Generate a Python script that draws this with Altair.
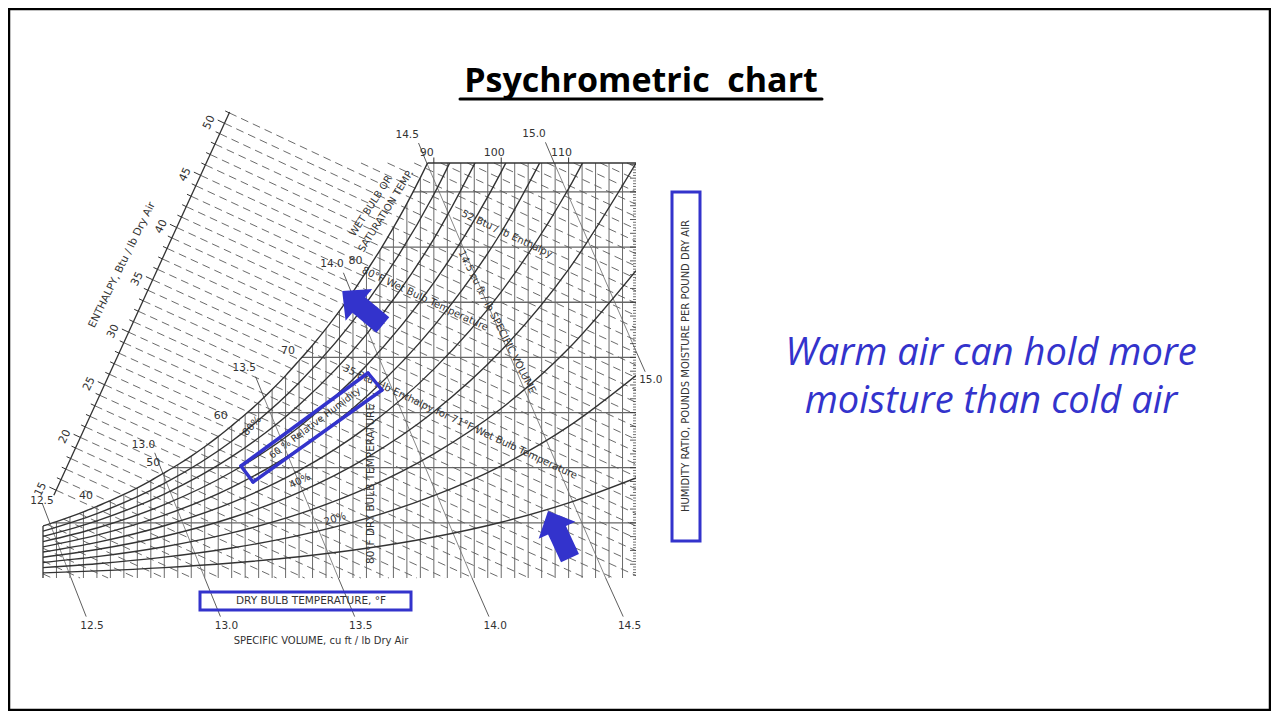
import altair as alt
import numpy as np
import pandas as pd

# ---------------- values ----------------
DRY_BULB_TICKS = [40, 50, 60, 70, 80, 90, 100, 110]
TOP_DRY_BULB_TICKS = [90, 100, 110]
HUMIDITY_TICKS = [0, 0.004, 0.008, 0.012, 0.016, 0.020, 0.024, 0.028]
WET_BULB_LABELS = [40, 50, 60, 70, 80]
ENTHALPY_TICKS = [15, 20, 25, 30, 35, 40, 45, 50]
VOLUME_VALUES = [12.5, 13.0, 13.5, 14.0, 14.5, 15.0]
T_MIN, T_MAX = 32, 120
W_TOP = 0.0301

# saturation (100 % RH) humidity ratio, every 2 F
SAT_T = list(range(32, 92, 2))
SAT_W = [0.003775, 0.004088, 0.004428, 0.004796, 0.005195, 0.005610, 0.006058,
         0.006542, 0.007065, 0.007631, 0.008214, 0.008844, 0.009522, 0.010252,
         0.011040, 0.011853, 0.012727, 0.013667, 0.014679, 0.015768, 0.016886,
         0.018086, 0.019373, 0.020755, 0.022245, 0.023771, 0.025406, 0.027158,
         0.029037, 0.031057]

# relative humidity curves, every 10 F
RH_T = [32, 40, 50, 60, 70, 80, 90, 100, 110, 120]
RH_10 = [0.000375, 0.000516, 0.000755, 0.001087, 0.001542, 0.002155, 0.002972, 0.004044, 0.005449, 0.007257]
RH_20 = [0.000751, 0.001032, 0.001511, 0.002177, 0.003091, 0.004325, 0.005973, 0.008140, 0.010995, 0.014686]
RH_30 = [0.001128, 0.001550, 0.002270, 0.003271, 0.004648, 0.006511, 0.009002, 0.012291, 0.016639, 0.022291]
RH_40 = [0.001504, 0.002068, 0.003030, 0.004369, 0.006213, 0.008711, 0.012061, 0.016496, 0.022384, 0.030081]
RH_50 = [0.001882, 0.002587, 0.003792, 0.005471, 0.007785, 0.010927, 0.015150, 0.020758, 0.028235, 0.038061]
RH_60 = [0.002259, 0.003107, 0.004556, 0.006577, 0.009366, 0.013159, 0.018269, 0.025077, 0.034192]
RH_70 = [0.002638, 0.003628, 0.005322, 0.007687, 0.010954, 0.015406, 0.021419, 0.029454, 0.040259]
RH_80 = [0.003016, 0.004149, 0.006090, 0.008801, 0.012550, 0.017670, 0.024600, 0.033891]
RH_90 = [0.003395, 0.004672, 0.006859, 0.009918, 0.014155, 0.019949, 0.027812, 0.038389]
RH_CURVES = {10: RH_10, 20: RH_20, 30: RH_30, 40: RH_40, 50: RH_50,
             60: RH_60, 70: RH_70, 80: RH_80, 90: RH_90}

# oblique enthalpy scale (end points, dry bulb F / humidity ratio)
ENTHALPY_SCALE_T = [33.6, 59.7]
ENTHALPY_SCALE_W = [0.0060, 0.0338]

# ---------------- styling ----------------
BLUE = '#3333CC'
INK = '#333333'
GRID = '#5a5a5a'
FONT = 'DejaVu Sans'
OX, OY = 43, 163          # page position of the plot origin
PW, PH = 593, 415         # plot size

xs = alt.Scale(domain=[T_MIN, T_MAX], nice=False, zero=False)
ys = alt.Scale(domain=[0, W_TOP], nice=False, zero=False)


def X(f, axis=None):
    return alt.X(f, type='quantitative', scale=xs, axis=axis)


def Y(f, axis=None):
    return alt.Y(f, type='quantitative', scale=ys, axis=axis)


xaxis = alt.Axis(values=DRY_BULB_TICKS, title=None, grid=False, orient='bottom',
                 tickSize=6, tickColor=INK, domainColor=INK, domainWidth=1.3,
                 labelFont=FONT, labelFontSize=11, labelColor=INK, labelPadding=1,
                 labelFlush=False, labelOverlap=False)
yaxis = alt.Axis(values=HUMIDITY_TICKS, title=None, grid=False, orient='right',
                 tickSize=6, tickColor=INK, domainColor=INK, domainWidth=1.3,
                 labelFont=FONT, labelFontSize=11, labelColor=INK, labelPadding=2,
                 labelFlush=False, labelOverlap=False,
                 labelExpr="datum.value == 0 ? '0' : substring(format(datum.value, '.3f'), 1)")

# ---------------- derived tables ----------------
rh_rows = []
for rh, ws in RH_CURVES.items():
    for t, w in zip(RH_T, ws):
        rh_rows.append({'rh': rh, 'T': t, 'W': w})
for t, w in zip(SAT_T, SAT_W):
    rh_rows.append({'rh': 100, 'T': t, 'W': w})
rh_df = pd.DataFrame(rh_rows)

vert_df = pd.DataFrame({'T': list(range(34, 120, 2))})
vert_df['W1'] = 0.0
vert_df['W2'] = np.minimum(np.interp(vert_df['T'], SAT_T, SAT_W), W_TOP)

horiz_df = pd.DataFrame({'W': HUMIDITY_TICKS[1:]})
horiz_df['T1'] = np.interp(horiz_df['W'], SAT_W, SAT_T)
horiz_df['T2'] = T_MAX

t_corner = float(np.interp(W_TOP, SAT_W, SAT_T))
edge_df = pd.DataFrame({'T1': [t_corner, T_MIN], 'T2': [T_MAX, T_MIN],
                        'W1': [W_TOP, 0.0], 'W2': [W_TOP, SAT_W[0]]})


def w_h(h, t):
    return (h - 0.24 * t) / (1061 + 0.444 * t)


def t_h(h, w):
    return (h - 1061 * w) / (0.24 + 0.444 * w)


sat_tf = np.linspace(32, 90, 2321)
sat_wf = np.interp(sat_tf, SAT_T, SAT_W)
u = np.linspace(0, 1, 2001)
sc_t = ENTHALPY_SCALE_T[0] + u * (ENTHALPY_SCALE_T[1] - ENTHALPY_SCALE_T[0])
sc_w = ENTHALPY_SCALE_W[0] + u * (ENTHALPY_SCALE_W[1] - ENTHALPY_SCALE_W[0])
sc_h = 0.24 * sc_t + sc_w * (1061 + 0.444 * sc_t)
H_LO, H_HI = sc_h[0], sc_h[-1]
h_edge = 0.24 * T_MIN + SAT_W[0] * (1061 + 0.444 * T_MIN)


def on_scale(h):
    uu = np.interp(h, sc_h, u)
    return (ENTHALPY_SCALE_T[0] + uu * (ENTHALPY_SCALE_T[1] - ENTHALPY_SCALE_T[0]),
            ENTHALPY_SCALE_W[0] + uu * (ENTHALPY_SCALE_W[1] - ENTHALPY_SCALE_W[0]))


enth_rows, tick_rows = [], []
for h in range(8, 63):
    if h <= h_edge:
        t1, w1 = T_MIN, w_h(h, T_MIN)
    elif h < H_LO:
        i = int(np.argmax(w_h(h, sat_tf) - sat_wf <= 0))
        t1, w1 = sat_tf[i], sat_wf[i]
    elif h <= H_HI:
        t1, w1 = on_scale(h)
        dt = 1.0 if h % 5 == 0 else 0.6
        tick_rows.append({'T1': t1, 'W1': w1, 'T2': t1 - dt, 'W2': w_h(h, t1 - dt)})
    else:
        t1, w1 = t_h(h, W_TOP), W_TOP
    if h / 0.24 <= T_MAX:
        t2, w2 = h / 0.24, 0.0
    else:
        t2, w2 = T_MAX, w_h(h, T_MAX)
    if w2 > W_TOP:
        continue
    enth_rows.append({'T1': t1, 'W1': w1, 'T2': t2, 'W2': w2})
enth_df = pd.DataFrame(enth_rows)
etick_df = pd.DataFrame(tick_rows)
scale_df = pd.DataFrame({'T1': [on_scale(H_LO + 0.01)[0]], 'W1': [on_scale(H_LO + 0.01)[1]],
                         'T2': [ENTHALPY_SCALE_T[1]], 'W2': [ENTHALPY_SCALE_W[1]]})
elab_df = pd.DataFrame([{'T': on_scale(h)[0], 'W': on_scale(h)[1], 'txt': str(h)}
                        for h in ENTHALPY_TICKS])


def t_v(v, w):
    return v * 14.696 / (0.370486 * (1 + 1.607858 * w)) - 459.67


wg = np.linspace(0, W_TOP, 3011)
vol_rows, lead_rows, vlab_rows = [], [], []
for v in VOLUME_VALUES:
    tv = t_v(v, wg)
    ib = int(np.argmax(tv <= T_MAX))
    wb, tb = wg[ib], float(t_v(v, wg[ib]))
    hit = wg >= np.interp(tv, SAT_T, SAT_W)
    wt = wg[int(np.argmax(hit))] if hit.any() else W_TOP
    tt = float(t_v(v, wt))
    vol_rows.append({'T1': tb, 'W1': wb, 'T2': tt, 'W2': wt})
    txt = '%.1f' % v
    # upper leader and label
    lead_rows.append({'T1': tt, 'W1': wt, 'T2': t_v(v, wt + 0.0015), 'W2': wt + 0.0015})
    vlab_rows.append({'T': t_v(v, wt + 0.0021), 'W': wt + 0.0021, 'txt': txt,
                      'pos': 'first' if v == VOLUME_VALUES[0] else 'top'})
    if wb == 0:
        lead_rows.append({'T1': tb, 'W1': 0.0, 'T2': t_v(v, -0.0028), 'W2': -0.0028})
        vlab_rows.append({'T': t_v(v, -0.0035), 'W': -0.0035, 'txt': txt, 'pos': 'bottom'})
    else:
        lead_rows.append({'T1': tb, 'W1': wb, 'T2': t_v(v, wb - 0.0015), 'W2': wb - 0.0015})
        vlab_rows.append({'T': t_v(v, wb - 0.0021), 'W': wb - 0.0021, 'txt': txt, 'pos': 'right'})
vol_df = pd.DataFrame(vol_rows)
lead_df = pd.DataFrame(lead_rows)
vlab_df = pd.DataFrame(vlab_rows)

wb_df = pd.DataFrame({'T': WET_BULB_LABELS,
                      'W': [SAT_W[SAT_T.index(t)] for t in WET_BULB_LABELS],
                      'txt': [str(t) for t in WET_BULB_LABELS]})
top_df = pd.DataFrame({'T': TOP_DRY_BULB_TICKS, 'W': W_TOP, 'W2': W_TOP + 0.0004,
                       'txt': [str(t) for t in TOP_DRY_BULB_TICKS]})
minor_w = np.round(np.arange(1, 151) * 0.0002, 4)
minor_df = pd.DataFrame({'W': minor_w, 'major': (np.round(minor_w * 1e4) % 10 == 0)})

# ---------------- layers ----------------
layers = []


def seg_layer(df, color, width, dash=None):
    kw = dict(color=color, strokeWidth=width)
    if dash:
        kw['strokeDash'] = dash
    return alt.Chart(df).mark_rule(**kw).encode(
        x=X('T1'), y=Y('W1'), x2='T2:Q', y2='W2:Q')


layers.append(alt.Chart(vert_df).mark_rule(color=GRID, strokeWidth=0.9).encode(
    x=X('T'), y=Y('W1'), y2='W2:Q'))
layers.append(alt.Chart(horiz_df).mark_rule(color='#666666', strokeWidth=1.3).encode(
    x=X('T1'), x2='T2:Q', y=Y('W')))
layers.append(seg_layer(enth_df, GRID, 0.9, [8, 5]))
layers.append(seg_layer(etick_df, INK, 1))
layers.append(seg_layer(scale_df, INK, 1.3))
layers.append(seg_layer(vol_df, '#6a6a6a', 0.8))
layers.append(seg_layer(lead_df, INK, 0.8))
layers.append(seg_layer(edge_df, INK, 1.3))
layers.append(alt.Chart(minor_df).transform_filter('!datum.major').mark_rule(
    color=INK, strokeWidth=0.7).encode(
    x=alt.value(PW - 3), x2=alt.value(PW), y=Y('W')))
layers.append(alt.Chart(minor_df).transform_filter('datum.major').mark_rule(
    color=INK, strokeWidth=0.8).encode(
    x=alt.value(PW - 6), x2=alt.value(PW), y=Y('W')))
layers.append(alt.Chart(top_df).mark_rule(color=INK, strokeWidth=1).encode(
    x=X('T'), y=Y('W'), y2='W2:Q'))
layers.append(alt.Chart(rh_df).mark_line(interpolate='monotone', clip=True, color=INK,
                                         strokeWidth=1.4).encode(
    x=X('T', xaxis), y=Y('W', yaxis), detail='rh:N', order='T:Q'))

# chart labels tied to the data
txt_kw = dict(font=FONT, color=INK)
layers.append(alt.Chart(top_df).mark_text(fontSize=11, dx=-7, dy=-10, **txt_kw).encode(
    x=X('T'), y=Y('W'), text='txt:N'))
layers.append(alt.Chart(wb_df).mark_text(fontSize=11, dx=-11, dy=-10, **txt_kw).encode(
    x=X('T'), y=Y('W'), text='txt:N'))
layers.append(alt.Chart(elab_df).mark_text(fontSize=11, dx=-6, dy=-14, angle=296, **txt_kw).encode(
    x=X('T'), y=Y('W'), text='txt:N'))
layers.append(alt.Chart(vlab_df).transform_filter("datum.pos == 'top'").mark_text(
    fontSize=10.5, dx=-8, **txt_kw).encode(x=X('T'), y=Y('W'), text='txt:N'))
layers.append(alt.Chart(vlab_df).transform_filter("datum.pos == 'first'").mark_text(
    fontSize=10.5, dx=3, dy=6, **txt_kw).encode(x=X('T'), y=Y('W'), text='txt:N'))
layers.append(alt.Chart(vlab_df).transform_filter("datum.pos == 'bottom' || datum.pos == 'right'").mark_text(
    fontSize=10.5, dx=2, **txt_kw).encode(x=X('T'), y=Y('W'), text='txt:N'))


def note(text, x, y, angle=0, size=10, color=INK, font=FONT, **kw):
    return alt.Chart(pd.DataFrame({'t': [text]})).mark_text(
        angle=angle % 360, fontSize=size, color=color, font=font, **kw).encode(
        x=alt.value(x - OX), y=alt.value(y - OY), text='t:N')


def seg(x1, y1, x2, y2, color=BLUE, width=3.5):
    return alt.Chart(pd.DataFrame({'k': [0]})).mark_rule(
        color=color, strokeWidth=width, strokeCap='round').encode(
        x=alt.value(x1 - OX), y=alt.value(y1 - OY), x2=alt.value(x2 - OX), y2=alt.value(y2 - OY))


def box(x1, y1, x2, y2, color=BLUE, width=3):
    return alt.Chart(pd.DataFrame({'k': [0]})).mark_rect(
        fillOpacity=0, stroke=color, strokeWidth=width).encode(
        x=alt.value(x1 - OX), y=alt.value(y1 - OY), x2=alt.value(x2 - OX), y2=alt.value(y2 - OY))


ARROW = 'M0,-1L0.78,-0.18L0.38,-0.18L0.38,1L-0.38,1L-0.38,-0.18L-0.78,-0.18Z'


def arrow(x, y, angle, size):
    return alt.Chart(pd.DataFrame({'k': [0]})).mark_point(
        shape=ARROW, filled=True, size=size, angle=angle, color=BLUE, opacity=1,
        strokeWidth=0).encode(x=alt.value(x - OX), y=alt.value(y - OY))


layers += [
    note('WET BULB OR', 371, 206, -57),
    note('SATURATION TEMP.', 386, 211, -58),
    note('52 Btu / lb Enthalpy', 507, 234, 25),
    note('80°F Wet Bulb Temperature', 425, 299, 25),
    note('14.5 cu ft / lb  SPECIFIC VOLUME', 497, 322, 63),
    note('35 Btu / lb Enthalpy for 71°F Wet Bulb Temperature', 460, 422, 25),
    note('60 % Relative Humidity', 315, 423, -37, 9.5),
    note('80%', 252, 426, -48),
    note('40%', 300, 481, -26),
    note('20%', 335, 519, -18),
    note('80°F DRY BULB TEMPERATURE', 371, 484, 270, 10.5),
    note('ENTHALPY, Btu / lb Dry Air', 122, 265, -64, 10.5),
    note('DRY BULB TEMPERATURE, °F', 311, 601, 0, 10.5),
    note('SPECIFIC VOLUME, cu ft / lb Dry Air', 321, 641, 0, 10),
    note('HUMIDITY RATIO, POUNDS MOISTURE PER POUND DRY AIR', 686, 366, 270, 10),
    note('Psychrometric\u00a0\u00a0chart', 641, 92, 0, 34, 'black', 'Open Sans',
         fontWeight='bold', baseline='alphabetic'),
    seg(460, 99, 822, 99, 'black', 3),
    note('Warm air can hold more', 991, 365, 0, 38, BLUE, 'Open Sans', fontStyle='italic',
         baseline='alphabetic'),
    note('moisture than cold air', 991, 413, 0, 38, BLUE, 'Open Sans', fontStyle='italic',
         baseline='alphabetic'),
    box(672, 192, 700, 541),
    box(200, 592, 411, 610),
    seg(241, 466, 253, 482), seg(253, 482, 382, 390),
    seg(382, 390, 368, 373), seg(368, 373, 241, 466),
    arrow(362.5, 308, 310, 2809),
    arrow(559, 534.5, 335, 2704),
    box(9, 9, 1270, 710, 'black', 2.5),
]

chart = alt.layer(*layers).properties(
    width=PW, height=PH, autosize='none', background='white',
    padding={'left': OX - 8, 'top': OY - 8, 'right': 1271 - OX - PW, 'bottom': 711 - OY - PH},
).configure_view(strokeWidth=0)

chart.save('out.html', embed_options={'renderer': 'svg', 'actions': False})
